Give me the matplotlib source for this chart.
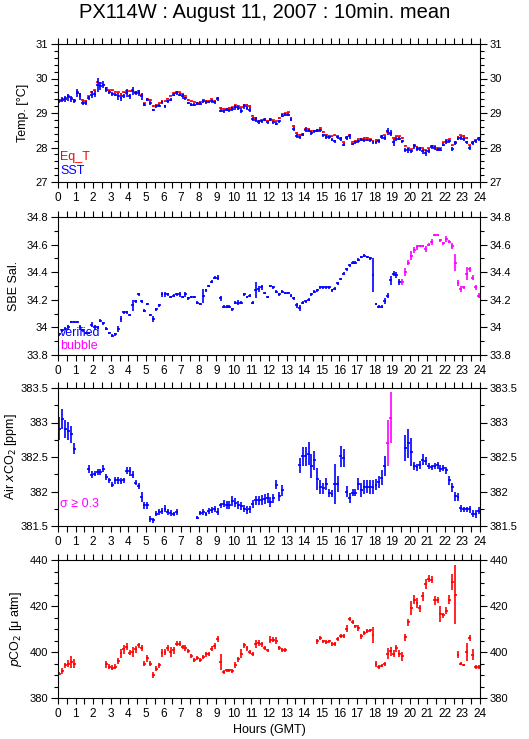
import numpy as np
import matplotlib.pyplot as plt
from matplotlib.ticker import MultipleLocator, FuncFormatter

plt.rcParams['font.family'] = ['Liberation Sans', 'DejaVu Sans']

nan = np.nan

# 10-minute means, 144 per day (one row per hour)
sst = [
    29.34, 29.39, 29.41, 29.46, 29.41, 29.34,
    29.58, 29.48, 29.29, 29.29, 29.43, 29.53,
    29.55, 29.82, 29.79, 29.82, 29.68, 29.60,
    29.55, 29.53, 29.48, 29.43, 29.50, 29.58,
    29.48, 29.63, 29.58, 29.58, 29.48, 29.24,
    29.39, 29.29, 29.10, 29.19, 29.21, 29.31,
    29.19, 29.34, 29.39, 29.53, 29.58, 29.53,
    29.48, 29.43, 29.29, 29.24, 29.24, 29.27,
    29.27, 29.34, 29.31, 29.31, 29.34, 29.31,
    29.41, 29.07, 29.05, 29.10, 29.08, 29.12,
    29.16, 29.14, 29.07, 29.19, 29.14, 29.10,
    28.83, 28.81, 28.73, 28.76, 28.81, 28.73,
    28.81, 28.73, 28.69, 28.76, 28.92, 28.95,
    28.95, 28.81, 28.54, 28.34, 28.29, 28.37,
    28.52, 28.49, 28.42, 28.47, 28.49, 28.50,
    28.35, 28.30, 28.30, 28.23, 28.18, 28.29,
    28.25, 28.08, 28.28, 28.32, 28.10, 28.15,
    28.18, 28.23, 28.21, 28.23, 28.21, 28.15,
    28.15, 28.18, 28.30, 28.28, 28.47, 28.42,
    28.15, 28.25, 28.25, 28.18, 27.94, 27.92,
    27.89, 28.03, 27.96, 27.96, 27.89, 27.84,
    27.89, 28.01, 27.99, 27.94, 27.94, 28.08,
    28.15, 28.18, 27.96, 28.13, 28.25, 28.28,
    28.25, 28.15, 27.99, 28.13, 28.18, 28.25,
]
sst_err = [
    0.05, 0.06, 0.08, 0.10, 0.08, 0.06,
    0.12, 0.10, 0.06, 0.05, 0.06, 0.10,
    0.08, 0.20, 0.12, 0.10, 0.06, 0.05,
    0.05, 0.05, 0.10, 0.08, 0.06, 0.12,
    0.08, 0.12, 0.06, 0.08, 0.10, 0.04,
    0.05, 0.06, 0.03, 0.04, 0.05, 0.05,
    0.05, 0.05, 0.04, 0.04, 0.05, 0.05,
    0.06, 0.04, 0.04, 0.05, 0.04, 0.04,
    0.04, 0.04, 0.04, 0.03, 0.05, 0.04,
    0.05, 0.05, 0.04, 0.05, 0.04, 0.06,
    0.06, 0.06, 0.08, 0.06, 0.05, 0.06,
    0.06, 0.06, 0.06, 0.05, 0.04, 0.05,
    0.05, 0.04, 0.04, 0.05, 0.05, 0.05,
    0.05, 0.04, 0.05, 0.06, 0.05, 0.04,
    0.06, 0.05, 0.06, 0.05, 0.04, 0.04,
    0.05, 0.05, 0.04, 0.05, 0.05, 0.05,
    0.05, 0.04, 0.06, 0.06, 0.04, 0.04,
    0.04, 0.04, 0.04, 0.03, 0.04, 0.05,
    0.04, 0.04, 0.05, 0.06, 0.10, 0.10,
    0.10, 0.05, 0.04, 0.04, 0.06, 0.07,
    0.05, 0.06, 0.05, 0.05, 0.07, 0.10,
    0.06, 0.06, 0.05, 0.05, 0.04, 0.05,
    0.06, 0.05, 0.06, 0.05, 0.04, 0.05,
    0.05, 0.05, 0.06, 0.05, 0.04, 0.05,
]
eq_t = [
    29.38, 29.40, 29.44, 29.48, 29.44, 29.38,
    29.62, 29.55, 29.38, 29.36, 29.48, 29.62,
    29.66, 29.90, 29.88, 29.80, 29.72, 29.66,
    29.66, 29.62, 29.60, 29.55, 29.60, 29.65,
    29.63, 29.66, 29.62, 29.65, 29.52, 29.28,
    29.42, 29.38, 29.20, 29.24, 29.28, 29.36,
    29.34, 29.42, 29.50, 29.58, 29.62, 29.60,
    29.55, 29.50, 29.38, 29.34, 29.33, 29.30,
    29.32, 29.38, 29.35, 29.35, 29.40, 29.36,
    29.44, 29.14, 29.12, 29.13, 29.15, 29.16,
    29.22, 29.20, 29.16, 29.24, 29.23, 29.20,
    28.92, 28.85, 28.78, 28.80, 28.82, 28.78,
    28.84, 28.79, 28.76, 28.85, 28.98, 28.99,
    29.02, 28.86, 28.62, 28.42, 28.36, 28.38,
    28.55, 28.55, 28.48, 28.48, 28.52, 28.56,
    28.45, 28.36, 28.33, 28.32, 28.35, 28.33,
    28.28, 28.15, 28.30, 28.35, 28.17, 28.20,
    28.24, 28.24, 28.28, 28.28, 28.24, 28.20,
    28.22, 28.22, 28.33, 28.35, 28.45, 28.40,
    28.28, 28.32, 28.32, 28.28, 28.05, 27.98,
    27.95, 28.06, 28.02, 28.00, 27.98, 27.92,
    27.98, 28.05, 28.03, 28.00, 27.98, 28.15,
    28.22, 28.24, 28.06, 28.16, 28.30, 28.35,
    28.33, 28.28, 28.06, 28.16, 28.22, 28.28,
]
eq_t_err = [
    0.02, 0.02, 0.02, 0.03, 0.02, 0.02,
    0.03, 0.02, 0.02, 0.02, 0.02, 0.03,
    0.02, 0.03, 0.03, 0.02, 0.02, 0.02,
    0.02, 0.02, 0.02, 0.02, 0.02, 0.02,
    0.02, 0.03, 0.02, 0.02, 0.02, 0.02,
    0.02, 0.02, 0.02, 0.02, 0.02, 0.02,
    0.02, 0.02, 0.02, 0.02, 0.02, 0.02,
    0.02, 0.02, 0.02, 0.02, 0.02, 0.02,
    0.02, 0.02, 0.02, 0.02, 0.02, 0.02,
    0.02, 0.02, 0.02, 0.02, 0.02, 0.02,
    0.02, 0.02, 0.02, 0.02, 0.02, 0.02,
    0.02, 0.02, 0.02, 0.02, 0.02, 0.02,
    0.02, 0.02, 0.02, 0.02, 0.02, 0.02,
    0.02, 0.02, 0.02, 0.02, 0.02, 0.02,
    0.02, 0.02, 0.02, 0.02, 0.02, 0.02,
    0.02, 0.02, 0.02, 0.02, 0.02, 0.02,
    0.02, 0.02, 0.02, 0.02, 0.02, 0.02,
    0.02, 0.02, 0.02, 0.02, 0.02, 0.02,
    0.02, 0.02, 0.02, 0.02, 0.03, 0.02,
    0.02, 0.02, 0.02, 0.02, 0.02, 0.02,
    0.02, 0.02, 0.02, 0.02, 0.02, 0.02,
    0.02, 0.02, 0.02, 0.02, 0.02, 0.02,
    0.02, 0.02, 0.02, 0.02, 0.02, 0.02,
    0.02, 0.02, 0.02, 0.02, 0.02, 0.02,
]

sal = [
    33.95, 33.98, 33.99, 34.00, 34.04, 34.04,
    34.04, 34.00, 33.98, 33.96, 33.96, 34.02,
    34.00, 34.00, 34.05, 34.03, 33.99, 33.96,
    33.94, 33.95, 33.99, 34.06, 34.11, 34.11,
    34.09, 34.16, 34.19, 34.24, 34.19, 34.12,
    34.17, 34.09, 34.06, 34.13, 34.16, 34.24,
    34.24, 34.24, 34.22, 34.23, 34.24, 34.24,
    34.22, 34.24, 34.21, 34.22, 34.22, 34.18,
    34.17, 34.23, 34.27, 34.30, 34.33, 34.36,
    34.36, 34.21, 34.15, 34.15, 34.15, 34.13,
    34.18, 34.18, 34.18, 34.24, 34.22, 34.23,
    34.18, 34.27, 34.28, 34.29, 34.25, 34.22,
    34.30, 34.29, 34.26, 34.24, 34.26, 34.25,
    34.25, 34.23, 34.21, 34.16, 34.14, 34.18,
    34.19, 34.20, 34.24, 34.26, 34.27, 34.29,
    34.29, 34.29, 34.29, 34.27, 34.28, 34.32,
    34.35, 34.39, 34.42, 34.45, 34.47, 34.47,
    34.49, 34.51, 34.52, 34.51, 34.50, 34.38,
    34.17, 34.15, 34.15, 34.19, 34.23, 34.34,
    34.39, 34.38, 34.33, 34.33, 34.40, 34.47,
    34.52, 34.56, 34.58, 34.59, 34.59, 34.57,
    34.60, 34.62, 34.67, 34.67, 34.63, 34.61,
    34.64, 34.62, 34.59, 34.47, 34.32, 34.28,
    34.29, 34.39, 34.42, 34.36, 34.29, 34.23,
]
sal_err = [
    0.01, 0.01, 0.01, 0.02, 0.01, 0.01,
    0.01, 0.02, 0.01, 0.01, 0.01, 0.02,
    0.02, 0.01, 0.01, 0.01, 0.01, 0.01,
    0.01, 0.01, 0.02, 0.02, 0.01, 0.01,
    0.01, 0.04, 0.01, 0.01, 0.01, 0.01,
    0.01, 0.01, 0.02, 0.01, 0.01, 0.02,
    0.02, 0.01, 0.01, 0.01, 0.01, 0.02,
    0.01, 0.02, 0.01, 0.01, 0.01, 0.01,
    0.01, 0.05, 0.01, 0.01, 0.01, 0.01,
    0.02, 0.02, 0.01, 0.01, 0.01, 0.01,
    0.01, 0.02, 0.01, 0.01, 0.01, 0.01,
    0.01, 0.06, 0.02, 0.02, 0.01, 0.01,
    0.01, 0.01, 0.01, 0.01, 0.01, 0.01,
    0.01, 0.01, 0.01, 0.02, 0.02, 0.01,
    0.01, 0.01, 0.01, 0.01, 0.01, 0.01,
    0.01, 0.01, 0.01, 0.01, 0.01, 0.01,
    0.01, 0.01, 0.01, 0.01, 0.01, 0.01,
    0.01, 0.01, 0.01, 0.01, 0.01, 0.12,
    0.01, 0.01, 0.01, 0.02, 0.02, 0.03,
    0.02, 0.02, 0.02, 0.02, 0.03, 0.02,
    0.03, 0.02, 0.02, 0.01, 0.01, 0.02,
    0.01, 0.02, 0.01, 0.01, 0.01, 0.01,
    0.02, 0.01, 0.02, 0.06, 0.02, 0.02,
    0.01, 0.05, 0.02, 0.02, 0.02, 0.02,
]
bubble_from = 19.5

air_xco2 = [
    382.91, 383.05, 382.90, 382.88, 382.83, 382.62,
    nan, nan, nan, nan, 382.33, 382.24,
    382.26, 382.28, 382.28, 382.33, 382.21, 382.16,
    382.10, 382.16, 382.16, 382.15, 382.16, 382.30,
    382.29, 382.24, 382.13, 382.08, 381.92, 381.80,
    381.80, 381.60, 381.58, 381.68, 381.70, 381.72,
    381.75, 381.70, 381.69, 381.67, 381.70, nan,
    nan, nan, nan, nan, nan, 381.62,
    381.69, 381.70, 381.68, 381.72, 381.73, 381.75,
    381.71, 381.80, 381.82, 381.80, 381.80, 381.86,
    381.84, 381.80, 381.79, 381.75, 381.73, 381.74,
    381.82, 381.87, 381.87, 381.88, 381.89, 381.91,
    381.85, 381.90, 382.10, 381.93, 382.02, nan,
    nan, nan, nan, nan, 382.38, 382.51,
    382.51, 382.55, 382.37, 382.45, 382.18, 382.07,
    382.05, 382.11, 381.98, 381.97, 382.11, 382.11,
    382.51, 382.49, 382.00, 381.91, 381.98, 381.98,
    382.11, 382.02, 382.06, 382.07, 382.06, 382.07,
    382.10, 382.14, 382.20, 382.37, 382.70, 383.07,
    nan, nan, nan, nan, 382.63, 382.70,
    382.57, 382.37, 382.35, 382.38, 382.46, 382.44,
    382.37, 382.35, 382.37, 382.38, 382.33, 382.34,
    382.31, 382.16, 382.06, 381.93, 381.92, 381.76,
    381.74, 381.74, 381.74, 381.68, 381.67, 381.72,
]
air_err = [
    0.17, 0.15, 0.13, 0.13, 0.12, 0.08,
    nan, nan, nan, nan, 0.06, 0.05,
    0.04, 0.04, 0.04, 0.05, 0.05, 0.04,
    0.04, 0.05, 0.05, 0.04, 0.04, 0.05,
    0.06, 0.05, 0.04, 0.04, 0.07, 0.05,
    0.05, 0.04, 0.03, 0.04, 0.04, 0.04,
    0.05, 0.04, 0.04, 0.03, 0.04, nan,
    nan, nan, nan, nan, nan, 0.02,
    0.03, 0.04, 0.03, 0.04, 0.04, 0.04,
    0.05, 0.04, 0.05, 0.06, 0.06, 0.07,
    0.06, 0.06, 0.06, 0.05, 0.06, 0.05,
    0.06, 0.06, 0.06, 0.07, 0.07, 0.07,
    0.07, 0.06, 0.07, 0.07, 0.08, nan,
    nan, nan, nan, nan, 0.11, 0.14,
    0.14, 0.17, 0.18, 0.14, 0.16, 0.10,
    0.08, 0.09, 0.06, 0.05, 0.29, 0.11,
    0.15, 0.13, 0.08, 0.07, 0.05, 0.05,
    0.09, 0.10, 0.10, 0.09, 0.10, 0.10,
    0.08, 0.09, 0.11, 0.14, 0.33, 0.37,
    nan, nan, nan, nan, 0.19, 0.21,
    0.20, 0.06, 0.05, 0.06, 0.08, 0.06,
    0.04, 0.04, 0.04, 0.05, 0.05, 0.04,
    0.05, 0.06, 0.07, 0.07, 0.06, 0.05,
    0.04, 0.04, 0.05, 0.05, 0.06, 0.05,
]

pco2 = [
    390.6, 391.7, 394.2, 394.9, 395.6, 394.9,
    nan, nan, nan, nan, nan, nan,
    nan, nan, nan, nan, 394.6, 393.6,
    393.2, 393.6, 396.1, 399.4, 401.1, 402.3,
    399.7, 400.0, 401.1, 402.9, 401.8, 394.9,
    397.2, 394.9, 390.0, 392.7, 394.2, 399.7,
    400.0, 401.8, 400.0, 400.8, 403.6, 403.6,
    402.1, 401.8, 400.4, 398.2, 396.5, 397.5,
    396.4, 397.9, 399.0, 399.2, 401.5, 402.6,
    405.7, 395.6, 391.3, 392.0, 392.0, 391.7,
    394.3, 396.8, 399.2, 402.9, 401.6, 400.1,
    399.2, 403.6, 404.0, 403.3, 401.8, 400.7,
    405.4, 405.4, 405.0, 401.8, 400.9, 400.9,
    nan, nan, nan, nan, nan, nan,
    nan, nan, nan, nan, 404.6, 406.1,
    404.6, 404.3, 404.6, 403.5, 403.5, 405.6,
    407.1, 407.1, 410.1, 414.3, 412.9, 411.1,
    410.4, 406.8, 408.3, 409.0, 409.4, 407.5,
    394.8, 393.5, 394.1, 394.8, 399.3, 400.3,
    399.3, 401.7, 399.3, 398.1, 406.4, 413.0,
    419.1, 422.8, 421.3, 419.1, 424.2, 429.6,
    431.9, 431.4, 422.5, 422.5, 416.6, 416.0,
    418.0, 422.8, 430.5, 425.0, 398.9, 395.0,
    394.5, 399.9, 406.1, 398.9, 393.4, 393.4,
]
pco2_err = [
    0.8, 1.2, 1.0, 1.5, 2.5, 2.0,
    nan, nan, nan, nan, nan, nan,
    nan, nan, nan, nan, 1.5, 1.0,
    1.0, 1.0, 1.2, 1.8, 2.0, 1.5,
    1.2, 2.0, 1.5, 1.0, 1.2, 1.0,
    1.5, 1.2, 1.2, 1.0, 1.0, 1.8,
    1.5, 1.2, 2.0, 1.5, 1.0, 1.2,
    1.0, 1.2, 0.8, 0.8, 0.8, 0.8,
    0.8, 0.8, 1.0, 1.0, 1.2, 1.2,
    1.2, 3.5, 0.8, 0.8, 0.8, 1.0,
    1.2, 1.2, 2.0, 1.2, 1.0, 0.8,
    0.8, 1.8, 1.2, 1.0, 0.8, 0.8,
    1.5, 1.0, 1.5, 0.8, 0.8, 0.8,
    nan, nan, nan, nan, nan, nan,
    nan, nan, nan, nan, 1.2, 1.0,
    0.8, 0.8, 0.8, 0.8, 0.8, 1.0,
    0.8, 0.8, 1.5, 1.0, 0.8, 0.8,
    1.2, 1.0, 0.8, 0.8, 0.8, 3.5,
    1.2, 0.8, 0.8, 0.8, 2.5, 2.0,
    1.5, 1.5, 1.5, 2.0, 1.5, 1.5,
    3.0, 2.0, 2.0, 1.5, 2.0, 2.0,
    1.5, 1.5, 2.0, 1.2, 3.5, 1.0,
    1.5, 2.0, 3.5, 13.0, 1.5, 0.5,
    0.5, 4.0, 1.5, 2.5, 0.8, 0.8,
]

hours = np.arange(len(sst)) / 6 + 1 / 12
half = 1 / 12

fig = plt.figure(figsize=(5.29, 7.39), dpi=100)
left, width = 58 / 529, 422 / 529
tops = [44, 217, 388, 560]
axes = [fig.add_axes([left, 1 - (t + 138) / 739, width, 138 / 739]) for t in tops]

fmt = FuncFormatter(lambda v, p: f'{v:g}')


def style(ax, ylim, major, minor, ylabel, labelx):
    ax.set_xlim(0, 24)
    ax.set_ylim(*ylim)
    ax.xaxis.set_major_locator(MultipleLocator(1))
    ax.xaxis.set_minor_locator(MultipleLocator(0.5))
    ax.yaxis.set_major_locator(MultipleLocator(major))
    ax.yaxis.set_minor_locator(MultipleLocator(minor))
    ax.yaxis.set_major_formatter(fmt)
    ax.tick_params(which='both', direction='out', top=True, right=True,
                   labelright=True, labelsize=8.5, width=0.8)
    ax.tick_params(axis='x', which='both', length=4, pad=3)
    ax.tick_params(axis='y', which='major', length=5, pad=2, labelsize=8)
    ax.tick_params(axis='y', which='minor', length=3)
    for s in ax.spines.values():
        s.set_linewidth(0.8)
    ax.set_ylabel(ylabel, fontsize=9)
    ax.yaxis.set_label_coords(labelx, 0.5)


def bars(ax, x, y, err, color):
    ax.errorbar(x, y, xerr=half, yerr=err, fmt='none', ecolor=color,
                elinewidth=1.2, capsize=0)


# temperature
ax = axes[0]
bars(ax, hours, eq_t, eq_t_err, 'red')
bars(ax, hours, sst, sst_err, 'blue')
style(ax, (27, 31), 1, 0.2, 'Temp. [°C]', -0.068)
ax.text(0.005, 0.18, 'Eq_T', color='red', fontsize=9, transform=ax.transAxes, va='center')
ax.text(0.005, 0.08, 'SST', color='blue', fontsize=9, transform=ax.transAxes, va='center')

# salinity
ax = axes[1]
sal_a = np.array(sal)
sal_e = np.array(sal_err)
ver = hours < bubble_from
bars(ax, hours[ver], sal_a[ver], sal_e[ver], 'blue')
bars(ax, hours[~ver], sal_a[~ver], sal_e[~ver], 'magenta')
style(ax, (33.8, 34.8), 0.2, 0.1, 'SBE Sal.', -0.09)
ax.text(0.005, 0.16, 'verified', color='blue', fontsize=9, transform=ax.transAxes, va='center')
ax.text(0.005, 0.065, 'bubble', color='magenta', fontsize=9, transform=ax.transAxes, va='center')

# air xCO2
ax = axes[2]
air_a = np.array(air_xco2)
air_e = np.array(air_err)
big = air_e >= 0.3
bars(ax, hours[~big], air_a[~big], air_e[~big], 'blue')
bars(ax, hours[big], air_a[big], air_e[big], 'magenta')
style(ax, (381.5, 383.5), 0.5, 0.25, 'Air $x$CO$_2$ [ppm]', -0.092)
ax.text(0.005, 0.16, 'σ ≥ 0.3', color='magenta', fontsize=9, transform=ax.transAxes, va='center')

# pCO2
ax = axes[3]
bars(ax, hours, pco2, pco2_err, 'red')
style(ax, (380, 440), 20, 5, '$p$CO$_2$ [μ atm]', -0.08)
ax.set_xlabel('Hours (GMT)', fontsize=9, labelpad=3)

fig.text(0.5, 0.983, 'PX114W : August 11, 2007 : 10min. mean', ha='center', va='center', fontsize=14.5)

fig.savefig('out.png', dpi=100)
